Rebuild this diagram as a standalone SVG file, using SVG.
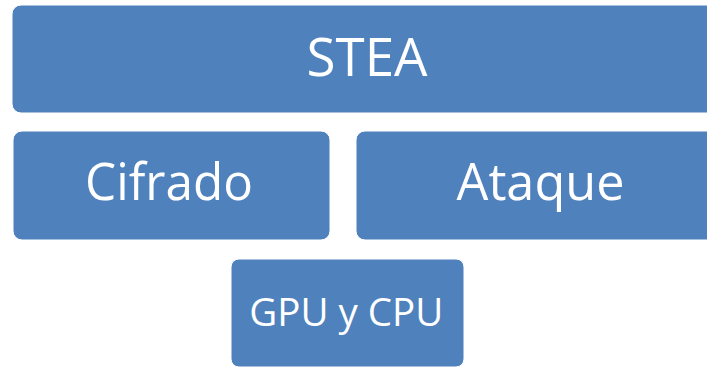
<svg xmlns="http://www.w3.org/2000/svg" width="707" height="367" viewBox="0 0 707 367">
  <style>
    .box { fill: #4F81BD; stroke: #ffffff; stroke-width: 1; }
    .lbl { fill: #ffffff; font-family: "Open Sans", "Noto Sans", "DejaVu Sans", sans-serif; text-anchor: middle; }
  </style>
  <rect width="707" height="367" fill="#ffffff"/>
  <g id="stea">
    <rect class="box" x="12" y="5" width="710" height="108" rx="9" ry="9"/>
    <text class="lbl" x="367" y="76" font-size="53.6" textLength="121" lengthAdjust="spacingAndGlyphs">STEA</text>
  </g>
  <g id="cifrado">
    <rect class="box" x="13" y="131" width="317" height="109" rx="9" ry="9"/>
    <text class="lbl" x="169" y="200" font-size="52" textLength="168" lengthAdjust="spacingAndGlyphs">Cifrado</text>
  </g>
  <g id="ataque">
    <rect class="box" x="356" y="131" width="370" height="109" rx="9" ry="9"/>
    <text class="lbl" x="540.5" y="200" font-size="52" textLength="168" lengthAdjust="spacingAndGlyphs">Ataque</text>
  </g>
  <g id="gpu-cpu">
    <rect class="box" x="231" y="259" width="233" height="108" rx="8" ry="8"/>
    <text class="lbl" x="346.3" y="325.7" font-size="38.4" textLength="194" lengthAdjust="spacingAndGlyphs">GPU y CPU</text>
  </g>
  <g id="connectors"/>
</svg>
